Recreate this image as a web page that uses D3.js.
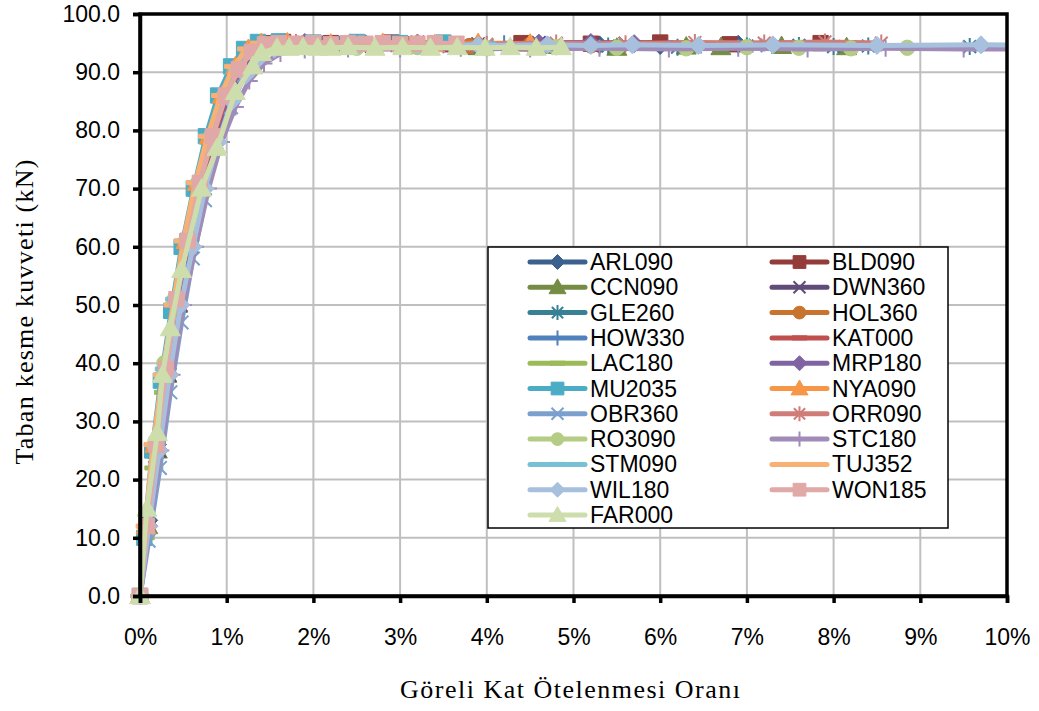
<!DOCTYPE html>
<html><head><meta charset="utf-8">
<script src="https://cdn.jsdelivr.net/npm/d3@7/dist/d3.min.js"></script>
<style>body{margin:0;background:#fff}</style>
</head><body><svg id="c" width="1039" height="711"></svg>
<script>
// ---------- data ----------
const seriesNames = ["ARL090","BLD090","CCN090","DWN360","GLE260","HOL360","HOW330","KAT000","LAC180","MRP180","MU2035","NYA090","OBR360","ORR090","RO3090","STC180","STM090","TUJ352","WIL180","WON185","FAR000"];
const seriesColors = ["#3B618E","#943C3A","#748C43","#604B7A","#388195","#C8732E","#4F81BD","#C0504D","#9BBB59","#8064A2","#4BACC6","#F79646","#7BA0CD","#D07C79","#B4CC83","#A08BB9","#78C1D4","#F9B074","#A7C0DE","#E0A8A6","#CDDDAC"];
const seriesMarkers = ["diamond","square","triangle","x","asterisk","circle","plus","dash","dash","diamond","square","triangle","x","asterisk","circle","plus","dash","dash","diamond","square","triangle"];

const drift_ARL090 = [0,0.1,0.2,0.32,0.45,0.58,0.72,0.86,1.0,1.15,1.3,1.45,1.7,2.1,2.6,3.2,3.9,4.6,5.3,6.0,6.9];
const shear_ARL090 = [0,13,26,40,52,62,71,79,85,90,93,94.6,94.8,94.7,94.9,94.6,94.8,94.5,94.7,94.6,94.8];
const drift_BLD090 = [0,0.08,0.18,0.3,0.42,0.55,0.69,0.83,0.98,1.12,1.27,1.42,1.65,2.2,2.9,3.6,4.4,5.2,6.0,6.8,7.85];
const shear_BLD090 = [0,12,25,38,50,61,70,78,85,90,93.5,95,95.2,95,95.1,94.8,95.0,94.9,95.1,94.8,95.0];
const drift_CCN090 = [0,0.09,0.2,0.31,0.43,0.56,0.7,0.85,1.0,1.14,1.3,1.46,1.8,2.4,3.1,3.9,4.7,5.5,6.3,6.7,7.4,8.15];
const shear_CCN090 = [0,12,25,38,50,61,71,79,86,90.5,93.5,94.5,94.6,94.4,94.5,94.3,94.5,94.2,94.4,94.3,94.5,94.3];
const drift_DWN360 = [0,0.1,0.22,0.34,0.47,0.6,0.74,0.88,1.03,1.18,1.33,1.5,1.9,2.5,3.2,3.9,4.6,5.6];
const shear_DWN360 = [0,12,25,38,50,60,70,78,85,90,93,94.8,95.0,94.9,95.1,94.8,95.0,94.9];
const drift_GLE260 = [0,0.07,0.17,0.28,0.4,0.53,0.67,0.81,0.96,1.1,1.25,1.4,1.7,2.3,3.0,3.8,4.6,5.4,6.2,7.0,7.6,8.0,8.4,9.57];
const shear_GLE260 = [0,11,24,37,49,60,70,78,85,90,93.5,94.5,94.7,94.5,94.6,94.4,94.6,94.5,94.3,94.5,94.6,94.4,94.5,94.4];
const drift_HOL360 = [0,0.08,0.19,0.3,0.42,0.55,0.69,0.84,0.99,1.14,1.29,1.45,1.8,2.4,3.1,3.8,4.5,5.2];
const shear_HOL360 = [0,12,26,39,51,61,71,79,86,90,93.5,94.6,94.8,94.6,94.7,94.5,94.7,94.6];
const drift_HOW330 = [0,0.09,0.2,0.32,0.44,0.57,0.71,0.86,1.01,1.16,1.31,1.47,1.8,2.3,2.9,3.5,4.2];
const shear_HOW330 = [0,13,26,39,51,61,71,79,86,90.5,93.5,94.8,95.0,94.8,94.9,94.7,94.9];
const drift_KAT000 = [0,0.08,0.19,0.31,0.43,0.56,0.7,0.84,0.99,1.14,1.29,1.44,1.8,2.5,3.3,4.1,4.9,5.7,6.5,7.6];
const shear_KAT000 = [0,12,25,38,50,60,70,78,85,90,93.5,95,95.2,95.0,95.1,94.9,95.1,95.0,94.9,95.0];
const drift_LAC180 = [0,0.06,0.16,0.27,0.39,0.52,0.66,0.8,0.95,1.1,1.25,1.42,1.8,2.5,3.2,4.0,4.8,5.4,6.0];
const shear_LAC180 = [0,10,22,35,48,59,69,78,85,90,93,94.5,94.7,94.5,94.6,94.4,94.6,94.4,94.5];
const drift_MRP180 = [0,0.1,0.22,0.34,0.46,0.6,0.74,0.89,1.04,1.19,1.35,1.52,1.9,2.5,3.2,3.9,4.6,5.2,5.7];
const shear_MRP180 = [0,12,25,38,50,60,70,78,85,90,93,94.8,95.1,94.9,95.0,94.8,95.0,95.1,94.9];
const drift_MU2035 = [0,0.05,0.14,0.24,0.36,0.48,0.62,0.76,0.9,1.05,1.2,1.36,1.6,2.0,2.5,3.0,3.5];
const shear_MU2035 = [0,10,25,37,49,60,70,79,86,91,94,95.2,95.3,95.1,95.2,95.0,95.1];
const drift_NYA090 = [0,0.07,0.17,0.28,0.4,0.53,0.66,0.8,0.95,1.1,1.25,1.4,1.7,2.2,2.8,3.4,3.9,4.5];
const shear_NYA090 = [0,12,26,39,51,61,71,79,86,91,94,95,95.1,94.9,95.0,94.8,95.0,94.9];
const drift_OBR360 = [0,0.1,0.23,0.35,0.48,0.61,0.75,0.9,1.05,1.2,1.36,1.52,1.9,2.6,3.3,4.0,4.8,5.6,6.4,7.1];
const shear_OBR360 = [0,9.5,22,35,47,58,68,77,84,89.5,93,94.6,94.8,94.6,94.7,94.5,94.7,94.6,94.4,94.6];
const drift_ORR090 = [0,0.08,0.18,0.29,0.41,0.54,0.68,0.83,0.98,1.13,1.28,1.44,1.8,2.5,3.2,4.0,4.8,5.6,6.4,7.2,7.9,8.55];
const shear_ORR090 = [0,12,26,39,51,61,71,79,86,90.5,93.5,94.8,95.1,94.9,95.0,94.8,95.0,94.9,95.1,95.0,95.2,95.0];
const drift_RO3090 = [0,0.07,0.17,0.28,0.4,0.53,0.67,0.82,0.97,1.12,1.27,1.43,1.8,2.5,3.2,4.0,4.8,5.5,6.3,7.0,7.6,8.2,8.85];
const shear_RO3090 = [0,12,26,40,51,61,71,79,86,90.5,93.5,94.3,94.3,94.2,94.3,94.1,94.3,94.2,94.1,94.3,94.2,94.1,94.2];
const drift_STC180 = [0,0.11,0.24,0.37,0.5,0.64,0.79,0.94,1.1,1.26,1.43,1.62,1.9,2.4,3.0,3.7,4.5,5.3,6.1,6.9,7.7,8.6,9.5,10.4];
const shear_STC180 = [0,12,25,38,50,60,70,78,84,88.5,91.5,93.2,93.8,94.0,94.0,94.1,94.0,94.1,94.0,94.1,94.0,94.1,94.0,94.0];
const drift_STM090 = [0,0.07,0.17,0.28,0.4,0.53,0.67,0.81,0.96,1.11,1.26,1.42,1.7,2.2,2.8,3.4,4.0];
const shear_STM090 = [0,12,26,39,51,61,71,79,86,90.5,93.5,94.8,94.9,94.7,94.8,94.6,94.8];
const drift_TUJ352 = [0,0.06,0.15,0.26,0.38,0.5,0.64,0.78,0.93,1.08,1.23,1.38,1.6,2.0,2.5,3.0];
const shear_TUJ352 = [0,12,26,38,50,61,71,79,86,91,94,95,95.1,95.0,95.1,95.0];
const drift_WIL180 = [0,0.1,0.22,0.34,0.47,0.61,0.75,0.9,1.06,1.22,1.38,1.55,1.9,2.5,3.2,3.9,4.7,5.2,5.68,6.44,7.3,8.5,9.7,10.8];
const shear_WIL180 = [0,12,25,38,50,60,70,78,85,89.5,92.5,94.0,94.5,94.6,94.7,94.6,94.7,94.6,94.7,94.6,94.7,94.6,94.7,94.6];
const drift_WON185 = [0,0.08,0.19,0.3,0.42,0.55,0.69,0.84,0.99,1.14,1.29,1.44,1.6,1.8,2.0,2.2,2.4,2.6,2.8,3.0,3.2,3.4,3.65];
const shear_WON185 = [0,12,26,39,51,61,71,79,86,90.5,93.5,94.8,95.0,94.9,95.0,94.8,95.0,94.9,95.0,94.8,94.9,95.0,94.9];
const drift_FAR000 = [0,0.08,0.2,0.26,0.35,0.48,0.71,0.89,1.1,1.3,1.4,1.58,1.72,1.88,2.05,2.2,2.4,2.71,3.03,3.35,3.66,3.98,4.27,4.57,4.86];
const shear_FAR000 = [0,15,28,38,46,56,70,77,86.6,91,93.3,94.2,94.2,94.3,94.2,94.2,94.3,94.2,94.3,94.2,94.3,94.2,94.3,94.2,94.3];

const yTicks = [0,10,20,30,40,50,60,70,80,90,100];
const xTicks = [0,1,2,3,4,5,6,7,8,9,10];
const xTitle = "Göreli Kat Ötelenmesi Oranı";
const yTitle = "Taban kesme kuvveti (kN)";

const driftTable = [drift_ARL090,drift_BLD090,drift_CCN090,drift_DWN360,drift_GLE260,drift_HOL360,drift_HOW330,drift_KAT000,drift_LAC180,drift_MRP180,drift_MU2035,drift_NYA090,drift_OBR360,drift_ORR090,drift_RO3090,drift_STC180,drift_STM090,drift_TUJ352,drift_WIL180,drift_WON185,drift_FAR000];
const shearTable = [shear_ARL090,shear_BLD090,shear_CCN090,shear_DWN360,shear_GLE260,shear_HOL360,shear_HOW330,shear_KAT000,shear_LAC180,shear_MRP180,shear_MU2035,shear_NYA090,shear_OBR360,shear_ORR090,shear_RO3090,shear_STC180,shear_STM090,shear_TUJ352,shear_WIL180,shear_WON185,shear_FAR000];
const series = seriesNames.map((n,i)=>({name:n,color:seriesColors[i],marker:seriesMarkers[i],
  pts:driftTable[i].map((d,j)=>({x:d,y:shearTable[i][j]}))}));

// ---------- layout ----------
const L=140,R=1007,T=14,B=596;
const svg=d3.select("#c");
const x=d3.scaleLinear().domain([0,10]).range([L,R]);
const y=d3.scaleLinear().domain([0,100]).range([B,T]);
const FONT="Arial, 'Liberation Sans', sans-serif";
const SERIF="'Times New Roman', 'Liberation Serif', serif";

// gridlines
svg.append("g").selectAll("line.h").data(yTicks.slice(1)).join("line")
  .attr("x1",L).attr("x2",R).attr("y1",d=>y(d)).attr("y2",d=>y(d))
  .attr("stroke","#BFBFBF").attr("stroke-width",2);
svg.append("g").selectAll("line.v").data(xTicks.slice(1)).join("line")
  .attr("y1",T).attr("y2",B).attr("x1",d=>x(d)).attr("x2",d=>x(d))
  .attr("stroke","#BFBFBF").attr("stroke-width",2);

// marker path
function markerPath(type,s){
  const h=s/2;
  switch(type){
    case "diamond": return `M0,${-h}L${h},0L0,${h}L${-h},0Z`;
    case "square": {const q=h*0.85;return `M${-q},${-q}H${q}V${q}H${-q}Z`;}
    case "triangle": return `M0,${-h}L${h},${h*0.75}L${-h},${h*0.75}Z`;
    case "circle": {const r=h*0.85;return `M${r},0A${r},${r} 0 1,1 ${-r},0A${r},${r} 0 1,1 ${r},0Z`;}
    case "x": {const q=h*0.8;return `M${-q},${-q}L${q},${q}M${-q},${q}L${q},${-q}`;}
    case "asterisk": {const q=h*0.75;return `M${-q},${-q}L${q},${q}M${-q},${q}L${q},${-q}M0,${-h}L0,${h}`;}
    case "plus": return `M${-h},0L${h},0M0,${-h}L0,${h}`;
    case "dash": return `M${-h},-2H${h}V2H${-h}Z`;
  }
}
const isStroke=t=>t==="x"||t==="asterisk"||t==="plus";
const mSize=t=>t==="triangle"?20:(t==="dash"?18:(isStroke(t)?17:18));

// clip at right edge of plot area
svg.append("clipPath").attr("id","clip").append("rect")
  .attr("x",0).attr("y",0).attr("width",R).attr("height",711);

const line=d3.line().x(d=>x(d.x)).y(d=>y(d.y));
const plot=svg.append("g").attr("clip-path","url(#clip)");
series.forEach(s=>{
  const g=plot.append("g");
  g.append("path").attr("d",line(s.pts)).attr("fill","none")
    .attr("stroke",s.color).attr("stroke-width",5).attr("stroke-linejoin","round").attr("stroke-linecap","round");
  g.selectAll("path.m").data(s.pts).join("path").attr("class","m")
    .attr("transform",d=>`translate(${x(d.x)},${y(d.y)})`)
    .attr("d",markerPath(s.marker,mSize(s.marker)))
    .attr("fill",isStroke(s.marker)?"none":s.color)
    .attr("stroke",s.color).attr("stroke-width",isStroke(s.marker)?2:1);
});

// plot border
svg.append("rect").attr("x",L).attr("y",T).attr("width",R-L).attr("height",B-T)
  .attr("fill","none").attr("stroke","#000").attr("stroke-width",3.5);

// axes
const yAxis=d3.axisLeft(y).tickValues(yTicks).tickFormat(d3.format(".1f")).tickSize(7).tickPadding(13);
const gy=svg.append("g").attr("transform",`translate(${L},0)`).call(yAxis);
const xAxis=d3.axisBottom(x).tickValues(xTicks).tickFormat(d=>d+"%").tickSize(7).tickPadding(26);
const gx=svg.append("g").attr("transform",`translate(0,${B})`).call(xAxis);
[gx,gy].forEach(g=>{
  g.select(".domain").attr("stroke","#000").attr("stroke-width",3.5);
  g.selectAll(".tick line").attr("stroke","#000").attr("stroke-width",3.5);
  g.selectAll(".tick text").attr("font-family",FONT).attr("font-size",23).attr("fill","#000");
});

// axis titles
svg.append("text").attr("x",570).attr("y",698).attr("text-anchor","middle")
  .attr("font-family",SERIF).attr("font-size",26)
  .attr("textLength",340).attr("lengthAdjust","spacing").text(xTitle);
svg.append("text").attr("transform","translate(33,312) rotate(-90)").attr("text-anchor","middle")
  .attr("font-family",SERIF).attr("font-size",26)
  .attr("textLength",305).attr("lengthAdjust","spacing").text(yTitle);

// legend
const lg=svg.append("g");
lg.append("rect").attr("x",488).attr("y",247).attr("width",460).attr("height",281)
  .attr("fill","#fff").attr("stroke","#000").attr("stroke-width",1.5);
series.forEach((s,i)=>{
  const col=i%2,row=Math.floor(i/2);
  const x0=col===0?530:772, yy=262+row*25.3;
  const g=lg.append("g");
  g.append("line").attr("x1",x0).attr("x2",x0+55).attr("y1",yy).attr("y2",yy)
    .attr("stroke",s.color).attr("stroke-width",5).attr("stroke-linecap","round");
  g.append("path").attr("transform",`translate(${x0+27.5},${yy})`)
    .attr("d",markerPath(s.marker,s.marker==="triangle"?17:15))
    .attr("fill",isStroke(s.marker)?"none":s.color)
    .attr("stroke",s.color).attr("stroke-width",isStroke(s.marker)?2:1);
  g.append("text").attr("x",x0+60).attr("y",yy).attr("dy","0.35em")
    .attr("font-family",FONT).attr("font-size",23).text(s.name);
});
</script></body></html>
